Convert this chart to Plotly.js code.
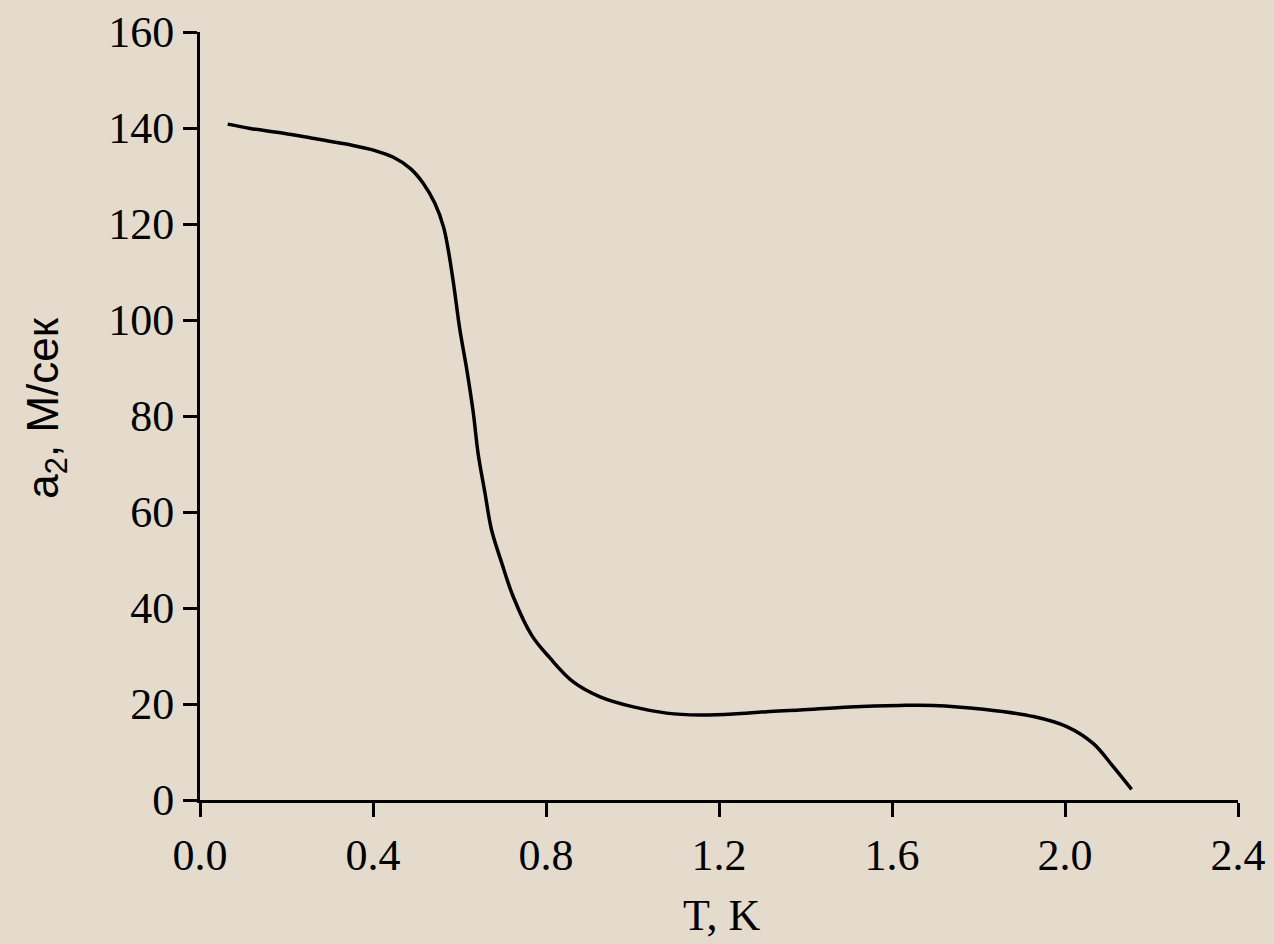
<!DOCTYPE html>
<html>
<head>
<meta charset="utf-8">
<script src="https://cdn.plot.ly/plotly-3.0.1.min.js"></script>
<style>
html,body{margin:0;padding:0;background:#e4dbcc;}
#chart{width:1274px;height:944px;}
</style>
</head>
<body>
<div id="chart"></div>
<script>
// Temperature T, K
const temperature = [0.064, 0.116, 0.193, 0.270, 0.347, 0.401, 0.447, 0.486, 0.516, 0.543,
  0.563, 0.574, 0.586, 0.601, 0.617, 0.632, 0.643, 0.659, 0.674, 0.698,
  0.724, 0.767, 0.809, 0.863, 0.925, 1.002, 1.079, 1.156, 1.233, 1.310,
  1.387, 1.503, 1.618, 1.696, 1.811, 1.927, 2.004, 2.065, 2.112, 2.154];
// Second sound velocity a2, m/s
const velocity = [140.8, 139.9, 138.9, 137.7, 136.5, 135.4, 133.9, 131.6, 128.5, 124.3,
  119.4, 114.6, 107.7, 97.9, 89.6, 80.6, 72.2, 63.9, 56.3, 49.3,
  42.4, 34.3, 29.6, 24.6, 21.5, 19.4, 18.1, 17.7, 17.9, 18.4,
  18.75, 19.4, 19.7, 19.7, 18.9, 17.4, 15.3, 11.8, 6.9, 2.2];
const xTicks = [0.0, 0.4, 0.8, 1.2, 1.6, 2.0, 2.4];
const yTicks = [0, 20, 40, 60, 80, 100, 120, 140, 160];
const xTitle = "T, K";
const yTitle = "a<sub>2</sub>, М/сек";

const serif = "Liberation Serif, Times New Roman, serif";
const sans = "Liberation Sans, Arial, sans-serif";

const trace = {
  x: temperature, y: velocity, type: "scatter", mode: "lines",
  line: {color: "#000000", width: 3.5, shape: "spline", smoothing: 1.0},
  hoverinfo: "skip"
};

const axisCommon = {
  showline: true, linecolor: "#000000", linewidth: 3,
  ticks: "outside", ticklen: 14, tickwidth: 3, tickcolor: "#000000",
  showgrid: false, zeroline: false,
  tickfont: {family: serif, size: 44, color: "#000000"}
};

const layout = {
  width: 1274, height: 944,
  margin: {l: 200, r: 36, t: 32, b: 144},
  paper_bgcolor: "#e4dbcc", plot_bgcolor: "rgba(0,0,0,0)",
  showlegend: false,
  xaxis: Object.assign({}, axisCommon, {
    range: [0, 2.4], tickmode: "array", tickvals: xTicks,
    ticktext: xTicks.map(v => v.toFixed(1))
  }),
  yaxis: Object.assign({}, axisCommon, {
    range: [0, 160], tickmode: "array", tickvals: yTicks,
    ticktext: yTicks.map(v => String(v))
  }),
  annotations: [
    {text: xTitle, xref: "paper", yref: "paper", x: 0.503, y: -0.15,
     xanchor: "center", yanchor: "middle", showarrow: false,
     font: {family: serif, size: 44, color: "#000000"}},
    {text: yTitle, xref: "paper", yref: "paper", x: -0.148, y: 0.51,
     xanchor: "center", yanchor: "middle", textangle: -90, showarrow: false,
     font: {family: sans, size: 44, color: "#000000"}}
  ]
};

Plotly.newPlot("chart", [trace], layout, {staticPlot: true, displayModeBar: false});
</script>
</body>
</html>
